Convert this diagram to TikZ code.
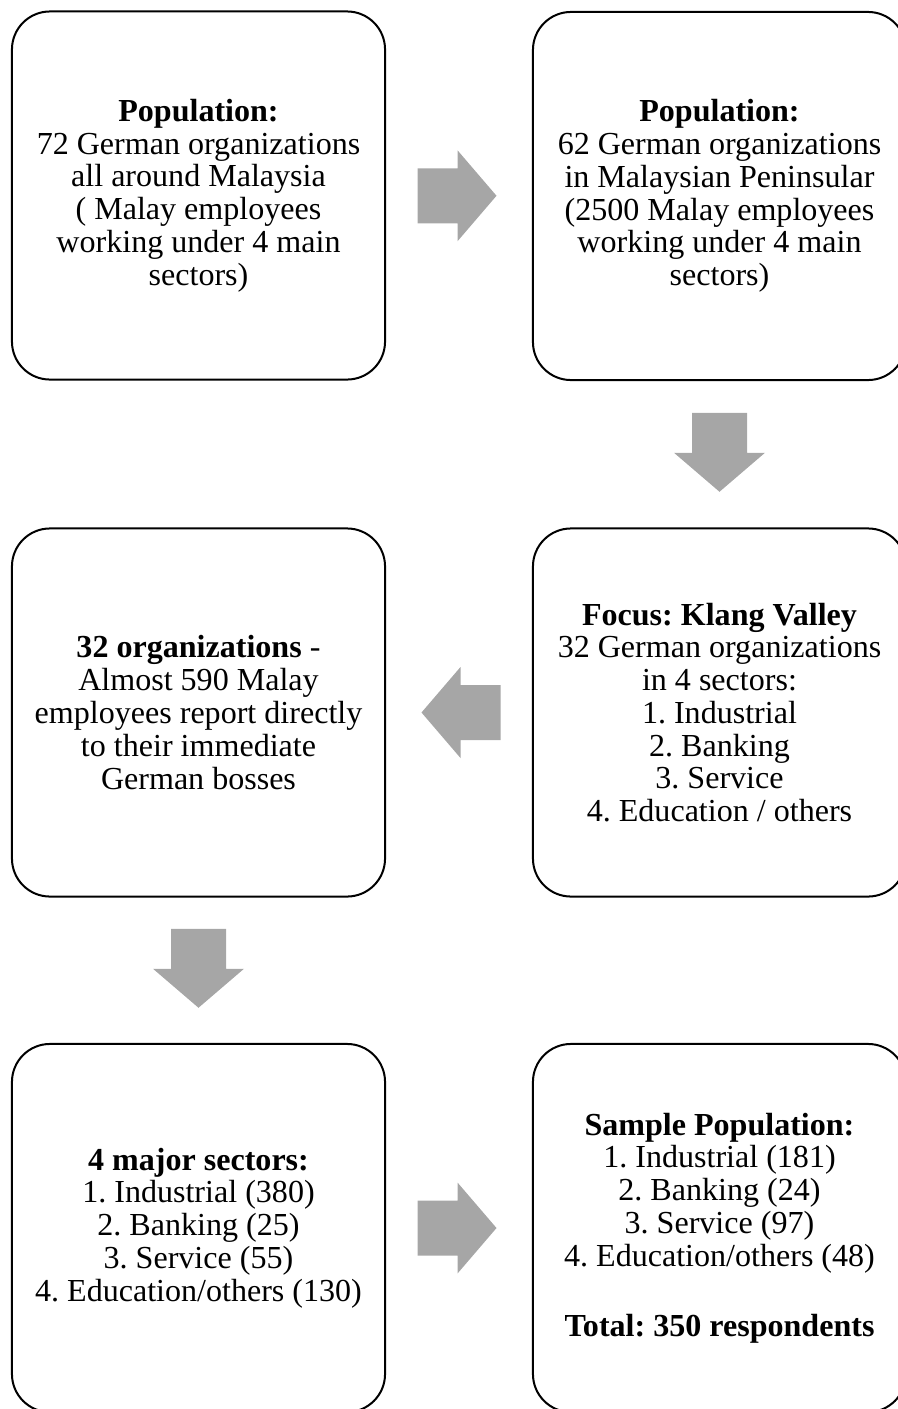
\documentclass[tikz,border=0pt]{standalone}
\usepackage{fontspec}
\setmainfont{Liberation Serif}
\usepackage{xcolor}
\usetikzlibrary{calc}
\definecolor{arrowgray}{RGB}{166,166,166}
\frenchspacing

\begin{document}
\begin{tikzpicture}[
  x=0.025cm, y=-0.025cm,
  box/.style={draw,rectangle,rounded corners=0.95cm,minimum width=9.325cm,
              minimum height=9.2cm,align=center,line width=0.05cm,inner sep=0pt,
              font=\fontsize{22.8pt}{23.3pt}\selectfont},
  blk/.pic={\fill[arrowgray] (-41.5,-27.5) -- (-1.5,-27.5) -- (-1.5,-45.5)
             -- (37.5,0) -- (-1.5,45.5) -- (-1.5,27.5) -- (-41.5,27.5) -- cycle;}
]
\useasboundingbox (0,0) rectangle (898,1409);
\clip (0,0) rectangle (898,1409);

%% Top row
\node[box] (pop1) at (198.5,195.5) {\textbf{Population:}\\72 German organizations\\all around Malaysia\\( Malay employees\\working under 4 main\\sectors)};
\node[box] (pop2) at (719.5,196)   {\textbf{Population:}\\62 German organizations\\in Malaysian Peninsular\\(2500 Malay employees\\working under 4 main\\sectors)};

%% Middle row
\node[box] (focus) at (719.5,712.5) {\textbf{Focus: Klang Valley}\\32 German organizations\\in 4 sectors:\\1. Industrial\\2. Banking\\3. Service\\4. Education / others};
\node[box] (orgs)  at (198.5,712.5) {\textbf{32 organizations} -\\Almost 590 Malay\\employees report directly\\to their immediate\\German bosses};

%% Bottom row
\node[box] (major)  at (198.5,1228) {\textbf{4 major sectors:}\\1. Industrial (380)\\2. Banking (25)\\3. Service (55)\\4. Education/others (130)};
\node[box] (sample) at (719.5,1228) {\textbf{Sample Population:}\\1. Industrial (181)\\2. Banking (24)\\3. Service (97)\\4. Education/others (48)\\[0.93cm]\textbf{Total: 350 respondents}};

%% Block arrows between the boxes
\path ($(pop1.east)!0.5!(pop2.west)$)    pic{blk};
\path ($(pop2.south)!0.5!(focus.north)$) pic[rotate=-90]{blk};
\path ($(focus.west)!0.5!(orgs.east)$)   pic[rotate=180]{blk};
\path ($(orgs.south)!0.5!(major.north)$) pic[rotate=-90]{blk};
\path ($(major.east)!0.5!(sample.west)$) pic{blk};
\end{tikzpicture}
\end{document}
